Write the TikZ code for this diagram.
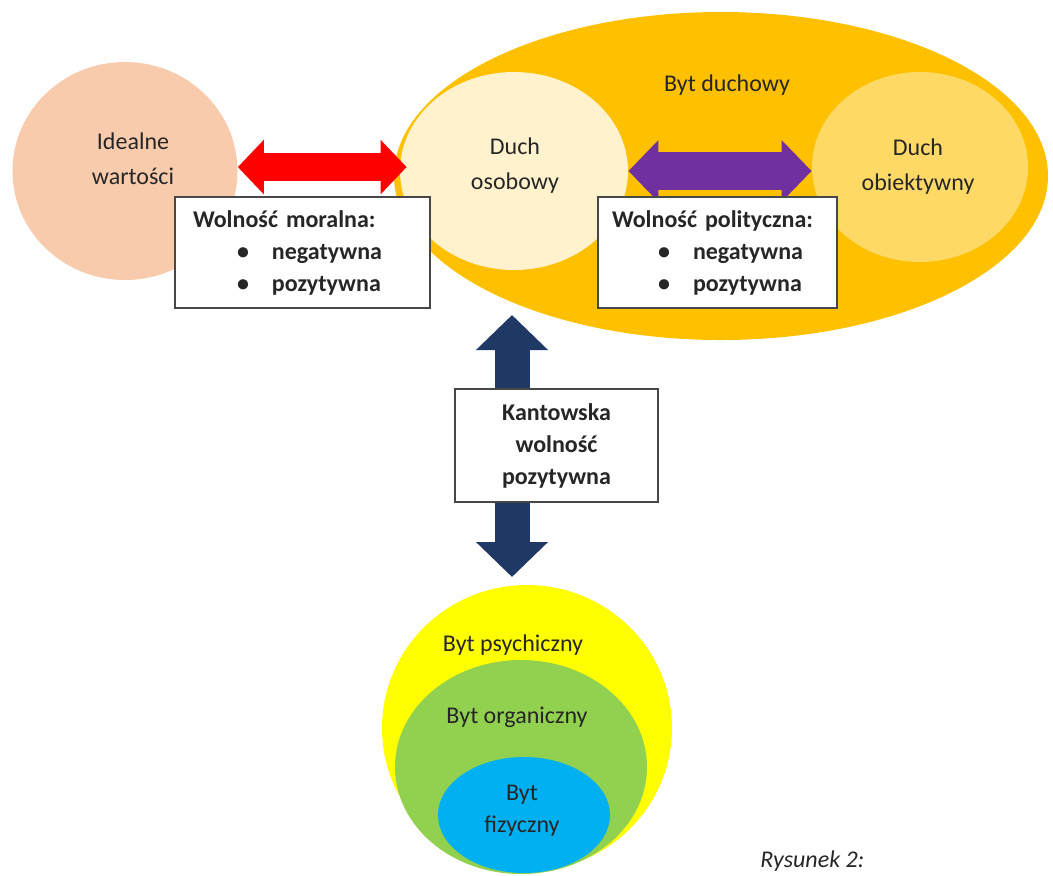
\documentclass[tikz,border=0pt]{standalone}
\usepackage{fontspec}
\setmainfont{Carlito}
\usetikzlibrary{arrows.meta, positioning, shapes.geometric}
\definecolor{ink}{HTML}{262626}
\definecolor{peach}{HTML}{F8CBAD}
\definecolor{gold}{HTML}{FFC000}
\definecolor{cream}{HTML}{FFF2CC}
\definecolor{goldlight}{HTML}{FFD966}
\definecolor{arrred}{HTML}{FF0000}
\definecolor{arrpurple}{HTML}{7030A0}
\definecolor{arrnavy}{HTML}{1F3864}
\definecolor{psyyellow}{HTML}{FFFF00}
\definecolor{orggreen}{HTML}{92D050}
\definecolor{fizblue}{HTML}{00B0F0}
\tikzset{
  every node/.style={font=\fontsize{12}{17.5}\selectfont, text=ink},
  blob/.style={ellipse, inner sep=0pt, draw=none},
  annot/.style={align=center},
  box/.style={
    draw=ink!85,
    fill=white,
    line width=0.9pt,
    align=left,
    inner ysep=0pt,
    font=\fontsize{12}{16}\selectfont\bfseries
  },
  fatred/.style={draw=arrred, line width=14pt,
    {Triangle[length=13pt, width=26.5pt]}-{Triangle[length=13pt, width=26.5pt]}},
  fatpurple/.style={draw=arrpurple, line width=19pt,
    {Triangle[length=15pt, width=30pt]}-{Triangle[length=15pt, width=30pt]}},
  fatnavy/.style={draw=arrnavy, line width=17.5pt,
    {Triangle[length=17.5pt, width=35pt]}-{Triangle[length=17.5pt, width=35pt]}}
}
\newcommand{\bulitem}[2]{\hspace*{#1}\makebox[17.5pt][l]{\textbullet}#2}

\begin{document}
\begin{tikzpicture}[x=0.5pt, y=-0.5pt]
  \useasboundingbox (0,0) rectangle (1053,875);

  % Byt duchowy with its two spirits
  \node[blob, fill=gold, minimum width=327pt, minimum height=164pt] (duchowy) at (721,176) {};
  \node[blob, fill=cream, minimum width=114pt, minimum height=99pt] (osob) at (514,171) {};
  \node[blob, fill=goldlight, minimum width=108pt, minimum height=95pt] (obj) at (920,167) {};
  \node[annot] (duchowylbl) at (727,85) {Byt duchowy};
  \node[annot] (osoblbl) at (515,166) {Duch\\osobowy};
  \node[annot] (objlbl) at (918,167) {Duch\\obiektywny};

  % Idealne wartosci
  \node[blob, fill=peach, minimum width=112.5pt, minimum height=109pt] (ideal) at (125,171) {};
  \node[annot] (ideallbl) at (133,159) {Idealne\\wartości};

  % Layers of being (bottom)
  \node[blob, fill=psyyellow, minimum width=145pt, minimum height=143pt] (psych) at (527,728) {};
  \node[blob, fill=orggreen, minimum width=126pt, minimum height=107pt] (organ) at (521,767) {};
  \node[blob, fill=fizblue, minimum width=86pt, minimum height=58pt] (fiz) at (524,815) {};
  \node[annot] (psychlbl) at (513,645) {Byt psychiczny};
  \node[annot] (organlbl) at (517,717) {Byt organiczny};
  \node[annot, font=\fontsize{12}{16}\selectfont] (fizlbl) at (522,811) {Byt\\fizyczny};

  % Fat double arrows
  \draw[fatred, shorten >=-3.5pt] (ideal.2) -- (ideal.2 -| osob.west);
  \draw[fatpurple] (osob.east) -- (osob.east -| obj.west);
  \coordinate (navytop) at (512,315);
  \coordinate (navybot) at (512,577);
  \draw[fatnavy] (navybot) -- (navytop);

  % Freedom boxes
  \node[box, text width=109.5pt, inner xsep=9pt, minimum height=55.5pt] (moralna) at (302.5,252.5)
    {Wolność moralna:\\ \bulitem{22pt}{negatywna}\\ \bulitem{22pt}{pozytywna}};
  \node[box, text width=105.5pt, inner xsep=7pt, minimum height=55.5pt] (polit) at (717.5,252.5)
    {Wolność polityczna:\\ \bulitem{23pt}{negatywna}\\ \bulitem{23pt}{pozytywna}};
  \node[box, align=center, minimum width=101.5pt, minimum height=56.5pt] (kant) at (556.5,445.5)
    {Kantowska\\wolność\\pozytywna};

  \node[anchor=south west, inner sep=1pt, font=\fontsize{12}{14}\selectfont\itshape] (rys) at (758,874) {Rysunek 2:};
\end{tikzpicture}
\end{document}
